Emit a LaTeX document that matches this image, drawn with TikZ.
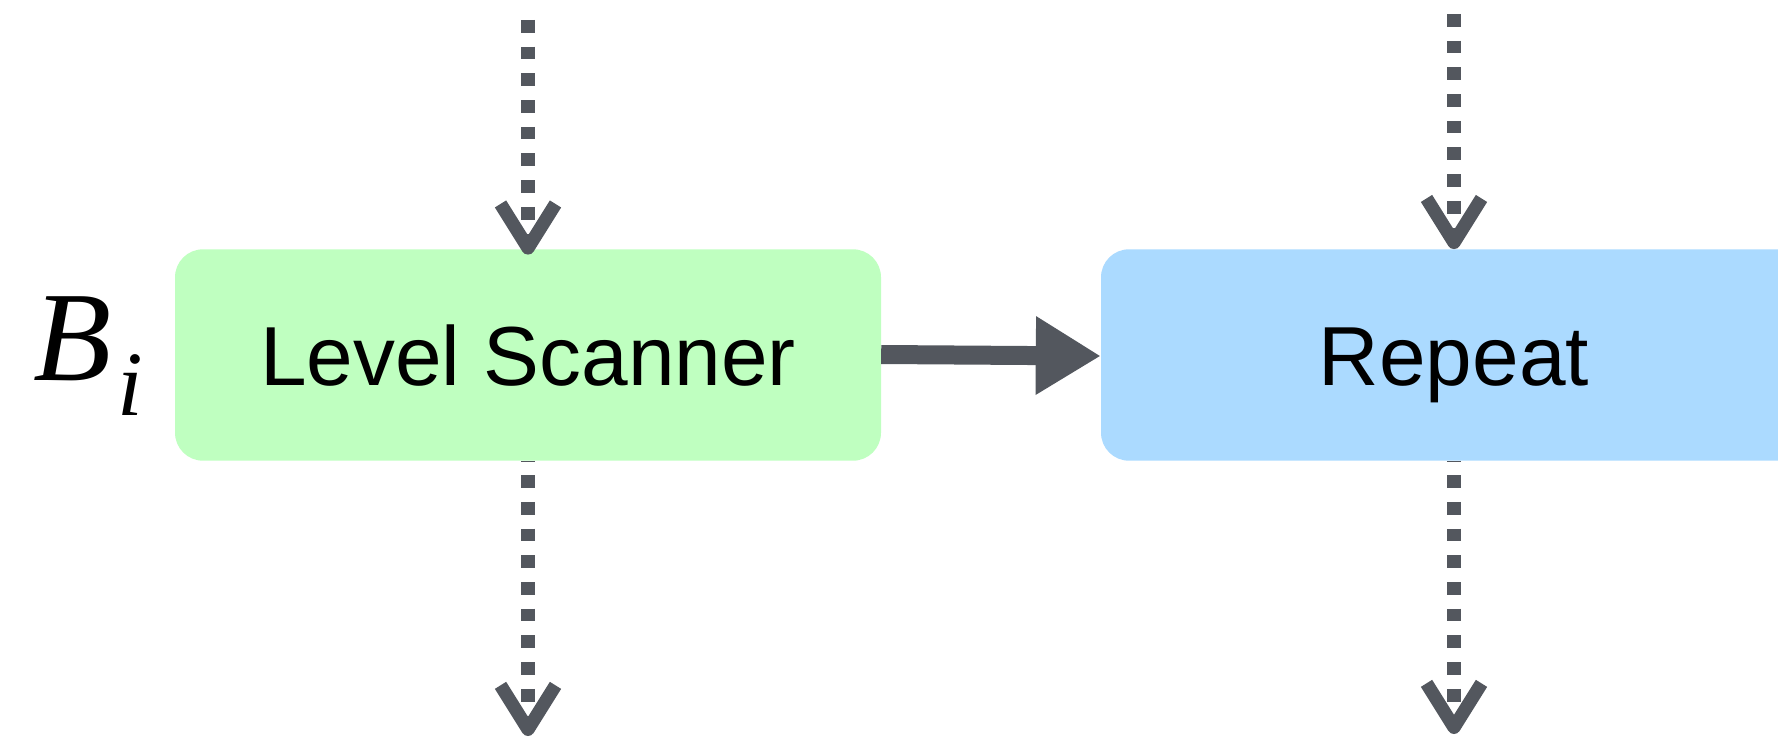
\documentclass[tikz,border=0pt]{standalone}
\usepackage{fontspec}
\setmainfont{Liberation Sans}
\newfontfamily\serifit{Liberation Serif}
\usetikzlibrary{arrows.meta}
\definecolor{boxgreen}{RGB}{191,255,192}
\definecolor{boxblue}{RGB}{171,218,255}
\definecolor{arrowgray}{RGB}{83,87,94}
\begin{document}
\begin{tikzpicture}[x=1pt,y=-1pt,
  block/.style={rectangle, rounded corners=28pt, minimum width=706pt,
    minimum height=211.4pt, inner sep=0pt, text height=60pt, text depth=0pt,
    font=\fontsize{83.8}{100}\selectfont},
  flowdash/.style={draw=arrowgray, line width=13.3pt, dash pattern=on 12.7pt off 14pt,
    -{Straight Barb[length=44pt,width=55pt,line join=round,line cap=butt]}},
  mainarrow/.style={draw=arrowgray, line width=19pt, -{Triangle[length=65pt,width=74pt]}}]
\useasboundingbox (0,0) rectangle (1778,741);
\clip (0,0) rectangle (1778,741);
\node[block, fill=boxgreen] (g) at (528,355) {Level Scanner};
\node[block, fill=boxblue] (b) at (1454,355) {Repeat};
\node[anchor=base west, inner sep=0pt] (lbl) at (33,380)
  {{\serifit\itshape\fontsize{128}{128}\selectfont B}\hspace{6pt}\raisebox{-35pt}{\serifit\itshape\fontsize{92}{92}\selectfont i}};
\coordinate (gt) at (528,20);
\coordinate (bt) at (1454,14);
\coordinate (gb) at (528,736);
\coordinate (bb) at (1454,734);
\draw[flowdash] (gt) -- ([yshift=-5.5pt]g.north);
\draw[flowdash] (bt) -- (b.north);
\draw[flowdash, dash phase=12.4pt] (g.south) -- (gb);
\draw[flowdash, dash phase=12.4pt] (b.south) -- (bb);
\draw[mainarrow] ([yshift=0.5pt]g.east) -- ([yshift=-1pt]b.west);
\end{tikzpicture}
\end{document}
